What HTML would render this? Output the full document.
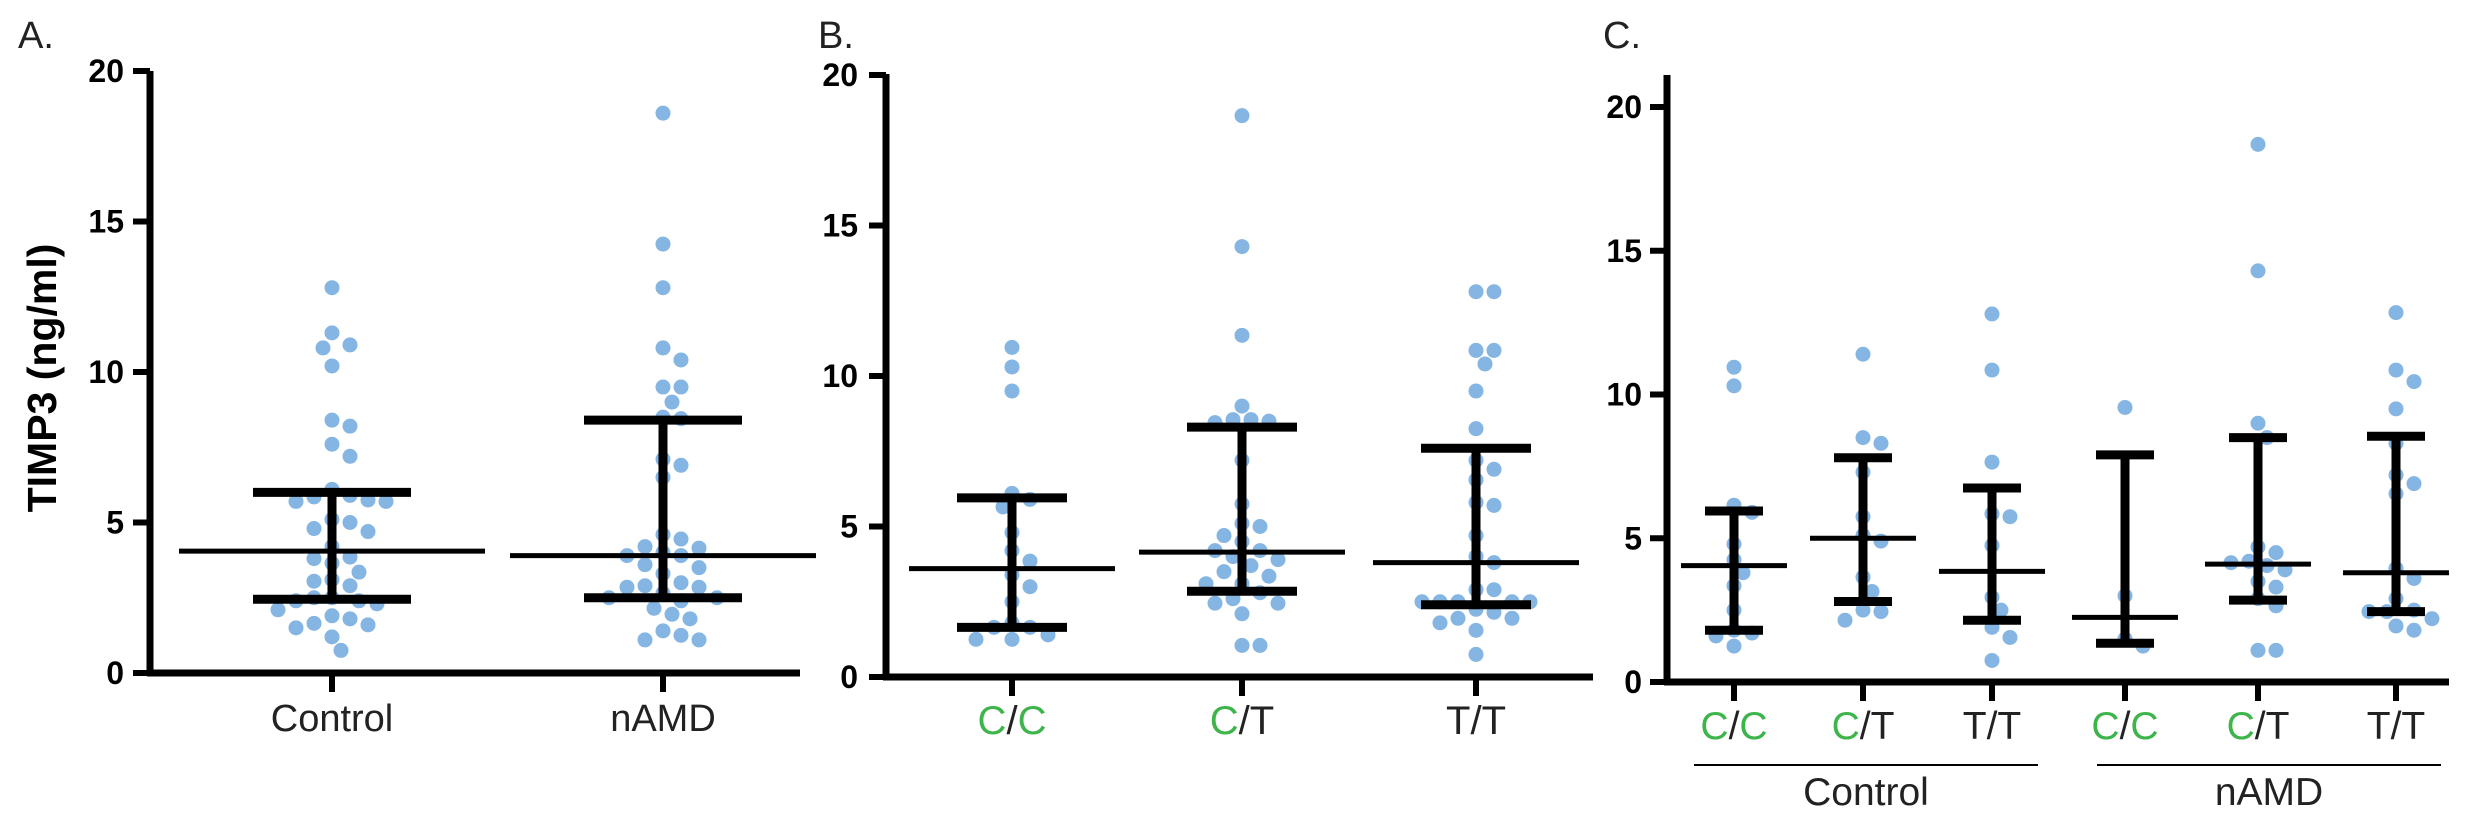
<!DOCTYPE html>
<html><head><meta charset="utf-8">
<style>
html,body{margin:0;padding:0;background:#fff;}
svg{display:block;font-family:"Liberation Sans",sans-serif;}
</style></head>
<body>
<svg id="fig" width="2480" height="817" viewBox="0 0 2480 817" xmlns="http://www.w3.org/2000/svg">
<rect width="2480" height="817" fill="#fff"/>
<text x="18" y="48" font-size="38" fill="#222">A.</text>
<text x="818" y="48" font-size="38" fill="#222">B.</text>
<text x="1603" y="48" font-size="38" fill="#222">C.</text>
<text transform="translate(56,378) rotate(-90)" text-anchor="middle" font-size="41" font-weight="bold" fill="#000">TIMP3 (ng/ml)</text>
<line x1="1694" y1="765" x2="2038" y2="765" stroke="#000" stroke-width="2"/>
<line x1="2097" y1="765" x2="2441" y2="765" stroke="#000" stroke-width="2"/>
<text x="1866" y="805" text-anchor="middle" font-size="39" fill="#222">Control</text>
<text x="2269" y="805" text-anchor="middle" font-size="39" fill="#222">nAMD</text>
</svg>
<script>
// ---- Data ----
const yTicks = [0, 5, 10, 15, 20];
const catsA = ["Control", "nAMD"];
const controlVals = [12.8,11.3,10.9,10.8,10.2,8.4,8.2,7.6,7.2,6.1,5.9,5.75,5.7,5.7,5.85,5.1,5.0,4.8,4.7,4.2,3.85,3.65,3.8,3.35,3.05,2.9,3.1,2.5,2.4,2.3,2.4,2.5,2.1,1.8,1.6,1.5,1.65,1.9,1.2,0.75];
const namdVals = [18.6,14.25,12.8,10.8,10.4,9.5,9.5,9.0,8.5,8.45,7.1,6.9,6.5,4.6,4.45,4.2,4.0,4.15,3.9,3.9,3.5,3.6,3.3,2.9,2.85,2.85,3.0,2.65,2.4,2.5,2.5,2.15,1.95,1.8,1.4,1.25,1.1,1.1];
const medA = [4.05, 3.9];
const q1A = [2.45, 2.5];
const q3A = [6.0, 8.4];

const catsB = ["C/C", "C/T", "T/T"];
const ccVals = [10.95,10.3,9.5,6.1,5.9,5.65,4.8,4.2,3.85,3.4,3.0,2.5,1.8,1.65,1.4,1.25,1.25,1.65];
const ctVals = [18.65,14.3,11.35,9.0,8.55,8.45,8.5,8.55,7.2,5.75,5.1,5.0,4.7,4.5,4.2,4.2,4.0,3.9,3.7,3.5,3.35,3.1,3.1,2.8,2.6,2.45,2.45,2.1,1.05,1.05];
const ttVals = [12.8,12.8,10.85,10.85,10.4,9.5,8.25,7.2,6.9,6.55,5.8,5.7,4.7,4.0,3.8,2.9,2.9,2.5,2.5,2.5,2.5,2.5,2.25,2.15,1.95,1.95,1.8,1.55,0.75];
const medB = [3.6, 4.15, 3.8];
const q1B = [1.65, 2.85, 2.4];
const q3B = [5.95, 8.3, 7.6];

const catsC = ["C/C", "C/T", "T/T", "C/C", "C/T", "T/T"];
const cCC = [10.95,10.3,6.15,5.9,4.8,4.25,3.8,3.35,2.5,1.8,1.7,1.6,1.25];
const cCT = [11.4,8.5,8.3,7.3,5.75,5.1,4.9,3.65,3.15,2.5,2.45,2.15];
const cTT = [12.8,10.85,7.65,5.85,5.75,4.75,2.95,2.5,1.9,1.55,0.75];
const nCC = [9.55,3.0,1.5,1.25];
const nCT = [18.7,14.3,9.0,8.5,4.7,4.5,4.2,4.15,4.05,3.9,3.5,3.3,2.9,2.65,1.1,1.1];
const nTT = [12.85,10.85,10.45,9.5,8.3,7.2,6.9,6.55,3.95,3.6,2.9,2.5,2.45,2.45,2.2,1.95,1.8];
const medC = [4.05, 5.0, 3.85, 2.25, 4.1, 3.8];
const q1C = [1.8, 2.8, 2.15, 1.35, 2.85, 2.45];
const q3C = [5.95, 7.8, 6.75, 7.9, 8.5, 8.55];

// ---- Drawing ----
const svg = document.getElementById('fig');
const NS = 'http://www.w3.org/2000/svg';
function mk(tag, attrs){ const e=document.createElementNS(NS,tag); for(const k in attrs) e.setAttribute(k,attrs[k]); svg.appendChild(e); return e; }

function swarm(vals, ys, cx, step, minD){
  const placed=[];
  const order = vals.map((v,i)=>i).sort((a,b)=>vals[b]-vals[a]);
  const xs = new Array(vals.length);
  for(const i of order){
    const y=ys(vals[i]);
    let chosen=0;
    for(let k=0;k<40;k++){
      const off = (k===0)?0:((k%2===1)?1:-1)*Math.ceil(k/2)*step;
      let ok=true;
      for(const p of placed){ const dx=p[0]-(cx+off), dy=p[1]-y; if(dx*dx+dy*dy<minD*minD){ok=false;break;} }
      if(ok){chosen=off;break;}
    }
    xs[i]=cx+chosen; placed.push([cx+chosen,y]);
  }
  return xs;
}

function panel(p){
  const ys = v => p.y0 - (v/20)*(p.y0-p.y20);
  let e = mk('line',{x1:p.ax,y1:p.axTop,x2:p.ax,y2:p.y0+3,stroke:'#000','stroke-width':7});
  
  
  e = mk('line',{x1:p.ax-3,y1:p.y0,x2:p.axEnd,y2:p.y0,stroke:'#000','stroke-width':7});
  
  
  yTicks.forEach(t=>{
    const y=ys(t);
    let l=mk('line',{x1:p.ax-17,y1:y,x2:p.ax,y2:y,stroke:'#000','stroke-width':6});
    
    
    let tx=mk('text',{x:p.ax-p.lblGap,y:y+11,'text-anchor':'end','font-size':32,'font-weight':'bold',fill:'#000'});
    tx.textContent=t;
    
    
  });
  p.cats.forEach((c,i)=>{
    const cx=p.cx[i];
    let l=mk('line',{x1:cx,y1:p.y0,x2:cx,y2:p.y0+19,stroke:'#000','stroke-width':6});
    
    
    const t=mk('text',{x:cx,y:p.y0+p.lblDy,'text-anchor':'middle','font-size':p.catFont,fill:'#222'});
    
    
    if(c.indexOf('/')>=0){
      const parts=c.split('/');
      const a=document.createElementNS(NS,'tspan'); a.textContent=parts[0]; a.setAttribute('fill',parts[0]==='C'?'#3db54a':'#222'); t.appendChild(a);
      const s=document.createElementNS(NS,'tspan'); s.textContent='/'; s.setAttribute('fill','#222'); t.appendChild(s);
      const b=document.createElementNS(NS,'tspan'); b.textContent=parts[1]; b.setAttribute('fill',parts[1]==='C'?'#3db54a':'#222'); t.appendChild(b);
    } else t.textContent=c;
    const vals=p.series[i];
    const xs=swarm(vals, ys, cx, 9, 15.5);
    vals.forEach((v,j)=>{
      const d=mk('circle',{cx:xs[j],cy:ys(v),r:7.5,fill:'#85b5e2'});
      
      
    });
  });
  p.cats.forEach((c,i)=>{
    const cx=p.cx[i];
    let g=mk('line',{x1:cx,y1:ys(p.q3[i]),x2:cx,y2:ys(p.q1[i]),stroke:'#000','stroke-width':9});
    
    
    [p.q3[i],p.q1[i]].forEach(q=>{
      const cap=mk('line',{x1:cx-p.capW,y1:ys(q),x2:cx+p.capW,y2:ys(q),stroke:'#000','stroke-width':9});
      
      
    });
    const m=mk('line',{x1:cx-p.medW,y1:ys(p.med[i]),x2:cx+p.medW,y2:ys(p.med[i]),stroke:'#000','stroke-width':5});
    
    
  });
}

panel({id:'panel-a',ax:150,axTop:71,axEnd:800,y0:673,y20:71,lblGap:26,cats:catsA,cx:[332,663],series:[controlVals,namdVals],med:medA,q1:q1A,q3:q3A,capW:79,medW:153,lblDy:58,catFont:38});
panel({id:'panel-b',ax:886,axTop:74,axEnd:1593,y0:677,y20:75,lblGap:28,cats:catsB,cx:[1012,1242,1476],series:[ccVals,ctVals,ttVals],med:medB,q1:q1B,q3:q3B,capW:55,medW:103,lblDy:57,catFont:40});
panel({id:'panel-c',ax:1667,axTop:75,axEnd:2449,y0:682,y20:107,lblGap:25,cats:catsC,cx:[1734,1863,1992,2125,2258,2396],series:[cCC,cCT,cTT,nCC,nCT,nTT],med:medC,q1:q1C,q3:q3C,capW:29,medW:53,lblDy:57,catFont:39});
</script>
</body></html>
